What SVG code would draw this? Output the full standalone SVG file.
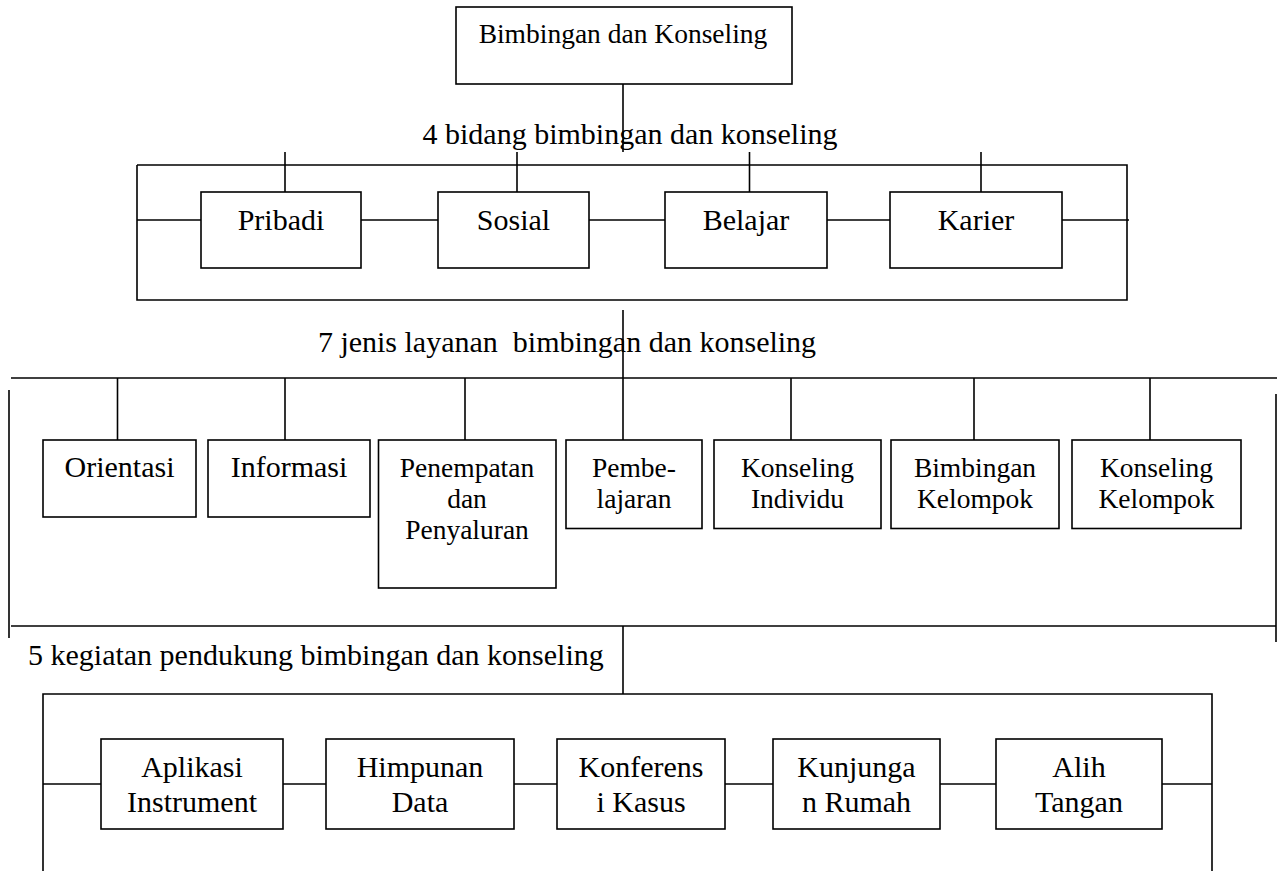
<svg xmlns="http://www.w3.org/2000/svg" width="1283" height="871" viewBox="0 0 1283 871">
<style>
.b{fill:#fff;stroke:#000;stroke-width:1.6}
.l{stroke:#000;stroke-width:1.6;fill:none}
text{font-family:'Liberation Serif',Tinos,'Times New Roman',Times,'Nimbus Roman','DejaVu Serif',serif;fill:#000;text-anchor:middle}
.f30{font-size:30px}
.f27{font-size:27.5px}
</style>
<rect width="1283" height="871" fill="#fff"/>
<g id="connectors">
<line class="l" x1="623" y1="84" x2="623" y2="152"/>
<polyline class="l" points="137,165 1127,165 1127,300 137,300 137,165"/>
<line class="l" x1="285" y1="152" x2="285" y2="192"/>
<line class="l" x1="517" y1="152" x2="517" y2="192"/>
<line class="l" x1="749.5" y1="152" x2="749.5" y2="192"/>
<line class="l" x1="981" y1="152" x2="981" y2="192"/>
<line class="l" x1="137" y1="220" x2="201" y2="220"/>
<line class="l" x1="361" y1="220" x2="438" y2="220"/>
<line class="l" x1="589" y1="220" x2="665" y2="220"/>
<line class="l" x1="827" y1="220" x2="890" y2="220"/>
<line class="l" x1="1062" y1="220" x2="1129" y2="220"/>
<line class="l" x1="623" y1="310" x2="623" y2="440"/>
<line class="l" x1="11" y1="378" x2="1277" y2="378"/>
<line class="l" x1="9" y1="390" x2="9" y2="638"/>
<line class="l" x1="1276" y1="394" x2="1276" y2="642"/>
<line class="l" x1="117.5" y1="378" x2="117.5" y2="440"/>
<line class="l" x1="285" y1="378" x2="285" y2="440"/>
<line class="l" x1="465" y1="378" x2="465" y2="440"/>
<line class="l" x1="791" y1="378" x2="791" y2="440"/>
<line class="l" x1="974" y1="378" x2="974" y2="440"/>
<line class="l" x1="1150" y1="378" x2="1150" y2="440"/>
<line class="l" x1="11" y1="626" x2="1276" y2="626"/>
<line class="l" x1="623" y1="626" x2="623" y2="694"/>
<polyline class="l" points="43,871 43,694 1212,694 1212,871"/>
<line class="l" x1="43" y1="784" x2="101" y2="784"/>
<line class="l" x1="283" y1="784" x2="326" y2="784"/>
<line class="l" x1="514" y1="784" x2="557" y2="784"/>
<line class="l" x1="725" y1="784" x2="773" y2="784"/>
<line class="l" x1="940" y1="784" x2="996" y2="784"/>
<line class="l" x1="1162" y1="784" x2="1212" y2="784"/>
</g>
<g id="root"><rect class="b" x="456" y="7" width="336" height="77"/><text class="f27" x="623" y="43">Bimbingan dan Konseling</text></g>
<g id="label-bidang"><text class="f30" x="630" y="144">4 bidang bimbingan dan konseling</text></g>
<g id="label-layanan"><text class="f30" x="567" y="352" xml:space="preserve">7 jenis layanan  bimbingan dan konseling</text></g>
<g id="label-pendukung"><text class="f30" x="28" y="665" style="text-anchor:start">5 kegiatan pendukung bimbingan dan konseling</text></g>
<g id="pribadi"><rect class="b" x="201" y="192" width="160" height="76"/><text class="f30" x="281" y="230">Pribadi</text></g>
<g id="sosial"><rect class="b" x="438" y="192" width="151" height="76"/><text class="f30" x="513.5" y="230">Sosial</text></g>
<g id="belajar"><rect class="b" x="665" y="192" width="162" height="76"/><text class="f30" x="746" y="230">Belajar</text></g>
<g id="karier"><rect class="b" x="890" y="192" width="172" height="76"/><text class="f30" x="976" y="230">Karier</text></g>
<g id="orientasi"><rect class="b" x="43" y="440" width="153" height="77"/><text class="f30" x="119.5" y="477">Orientasi</text></g>
<g id="informasi"><rect class="b" x="208" y="440" width="162" height="77"/><text class="f30" x="289" y="477">Informasi</text></g>
<g id="penempatan"><rect class="b" x="378.5" y="440" width="177.5" height="148"/><text class="f27"><tspan x="467" y="477">Penempatan</tspan><tspan x="467" y="508">dan</tspan><tspan x="467" y="539">Penyaluran</tspan></text></g>
<g id="pembelajaran"><rect class="b" x="566" y="440" width="136" height="88.5"/><text class="f27"><tspan x="634" y="477">Pembe-</tspan><tspan x="634" y="508">lajaran</tspan></text></g>
<g id="konseling-individu"><rect class="b" x="714" y="440" width="167" height="88.5"/><text class="f27"><tspan x="797.5" y="477">Konseling</tspan><tspan x="797.5" y="508">Individu</tspan></text></g>
<g id="bimbingan-kelompok"><rect class="b" x="891" y="440" width="168" height="88.5"/><text class="f27"><tspan x="975" y="477">Bimbingan</tspan><tspan x="975" y="508">Kelompok</tspan></text></g>
<g id="konseling-kelompok"><rect class="b" x="1072" y="440" width="169" height="88.5"/><text class="f27"><tspan x="1156.5" y="477">Konseling</tspan><tspan x="1156.5" y="508">Kelompok</tspan></text></g>
<g id="aplikasi"><rect class="b" x="101" y="739" width="182" height="90"/><text class="f30"><tspan x="192" y="777">Aplikasi</tspan><tspan x="192" y="812">Instrument</tspan></text></g>
<g id="himpunan"><rect class="b" x="326" y="739" width="188" height="90"/><text class="f30"><tspan x="420" y="777">Himpunan</tspan><tspan x="420" y="812">Data</tspan></text></g>
<g id="konferensi"><rect class="b" x="557" y="739" width="168" height="90"/><text class="f30"><tspan x="641" y="777">Konferens</tspan><tspan x="641" y="812">i Kasus</tspan></text></g>
<g id="kunjungan"><rect class="b" x="773" y="739" width="167" height="90"/><text class="f30"><tspan x="856.5" y="777">Kunjunga</tspan><tspan x="856.5" y="812">n Rumah</tspan></text></g>
<g id="alih-tangan"><rect class="b" x="996" y="739" width="166" height="90"/><text class="f30"><tspan x="1079" y="777">Alih</tspan><tspan x="1079" y="812">Tangan</tspan></text></g>
</svg>
